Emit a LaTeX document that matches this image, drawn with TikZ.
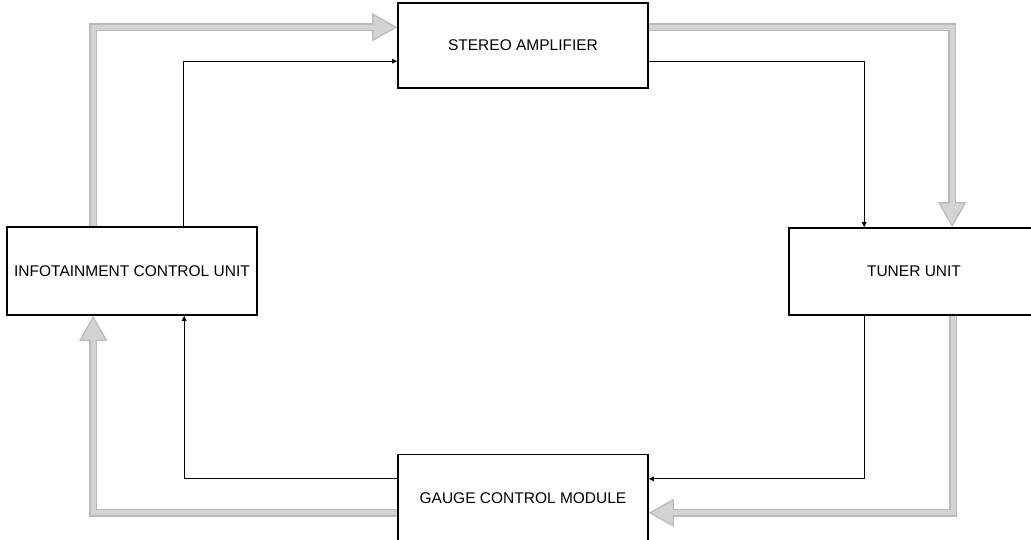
\documentclass[tikz,border=0pt]{standalone}
\usepackage{fontspec}
\setmainfont{Liberation Sans}
\usetikzlibrary{arrows.meta,positioning,calc}
\tikzset{every picture/.style={line width=0.75pt}}
\definecolor{flowedge}{RGB}{186,186,186}
\definecolor{flowfill}{RGB}{211,211,211}

\begin{document}
\begin{tikzpicture}[x=1pt,y=-1pt,
    unit/.style={draw, line width=1.6pt, minimum width=250pt, minimum height=85pt,
        inner sep=0pt, font=\fontsize{15.5}{18}\selectfont},
    signal/.style={draw, line width=1pt, -{Triangle[width=4.5pt,length=5pt]}},
    flow/.style={draw=flowedge, line width=8pt,
        -{Triangle[width=28pt,length=25pt,line width=1.2pt,fill=flowfill]},
        postaction={draw=flowfill, line width=5pt, shorten >=23pt, -}}]
    \useasboundingbox (0,0) rectangle (1031,539);
    % units
    \node[unit] (amp) at (523,45.5) {STEREO AMPLIFIER};
    \node[unit, minimum height=88pt] (icu) at (132,271) {INFOTAINMENT CONTROL UNIT};
    \node[unit, minimum height=87pt] (tuner) at (914,271.5) {TUNER UNIT};
    \node[unit, minimum height=88pt, below=365pt of amp] (gauge) {GAUGE CONTROL MODULE};
    % wide grey flow
    \draw[flow] ([xshift=87pt]icu.north west) |- ([yshift=-25pt]amp.north west);
    \draw[flow] ([yshift=-25pt]amp.north east) -| ([xshift=164pt]tuner.north west);
    \draw[flow] ([xshift=165pt]tuner.south west) |- ([yshift=-59pt]gauge.north east);
    \draw[flow] ([yshift=-59pt]gauge.north west) -| ([xshift=87pt]icu.south west);
    % thin signal lines
    \draw[signal] ([xshift=177pt]icu.north west) |- ([yshift=-59pt]amp.north west);
    \draw[signal] ([yshift=-59pt]amp.north east) -| ([xshift=76pt]tuner.north west);
    \draw[signal] ([xshift=76pt]tuner.south west) |- ([yshift=-25pt]gauge.north east);
    \draw[signal] ([yshift=-25pt]gauge.north west) -| ([xshift=178pt]icu.south west);
\end{tikzpicture}
\end{document}
